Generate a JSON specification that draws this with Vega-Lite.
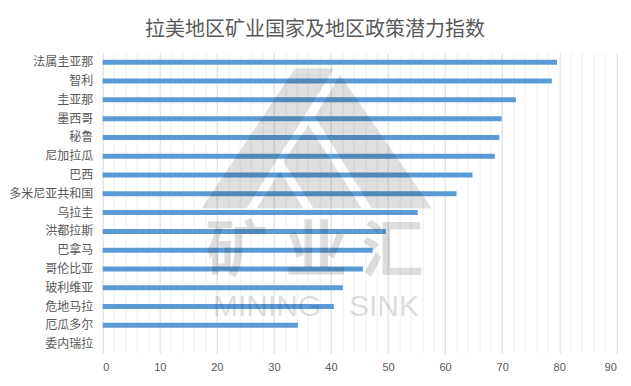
{
  "$schema": "https://vega.github.io/schema/vega-lite/v6.json",
  "autosize": {"type": "none"},
  "width": 513.6,
  "height": 300.6,
  "padding": {"left": 102.7, "top": 52.9, "right": 14.7, "bottom": 32.5},
  "background": "white",
  "title": {
    "text": "拉美地区矿业国家及地区政策潜力指数",
    "font": "Noto Sans CJK SC",
    "fontSize": 20,
    "fontWeight": "normal",
    "color": "#595959",
    "anchor": "middle",
    "frame": "group",
    "dx": -44.5,
    "offset": 13
  },
  "config": {
    "view": {"stroke": null},
    "axis": {"labelColor": "#595959"}
  },
  "datasets": {
    "main": [
      {"country": "法属圭亚那", "value": 79.6},
      {"country": "智利", "value": 78.7},
      {"country": "圭亚那", "value": 72.4},
      {"country": "墨西哥", "value": 69.9},
      {"country": "秘鲁", "value": 69.5},
      {"country": "尼加拉瓜", "value": 68.7},
      {"country": "巴西", "value": 64.8},
      {"country": "多米尼亚共和国", "value": 62.0},
      {"country": "乌拉圭", "value": 55.2},
      {"country": "洪都拉斯", "value": 49.6},
      {"country": "巴拿马", "value": 47.3},
      {"country": "哥伦比亚", "value": 45.6},
      {"country": "玻利维亚", "value": 42.1},
      {"country": "危地马拉", "value": 40.5},
      {"country": "厄瓜多尔", "value": 34.2},
      {"country": "委内瑞拉", "value": 0}
    ]
  },
  "encoding": {
    "x": {
      "type": "quantitative",
      "scale": {"domain": [0, 90], "nice": false, "zero": true},
      "axis": {
        "title": null,
        "values": [0,2,4,6,8,10,12,14,16,18,20,22,24,26,28,30,32,34,36,38,40,42,44,46,48,50,52,54,56,58,60,62,64,66,68,70,72,74,76,78,80,82,84,86,88,90],
        "labelExpr": "datum.value % 10 === 0 ? datum.label : ''",
        "grid": true,
        "gridColor": {"condition": {"test": "datum.value % 10 === 0", "value": "#D9D9D9"}, "value": "#EFEFEF"},
        "gridWidth": 1,
        "ticks": false,
        "domain": false,
        "labelFont": "Liberation Sans",
        "labelFontSize": 11,
        "labelPadding": 8,
        "labelColor": "#595959"
      }
    },
    "y": {
      "type": "nominal",
      "scale": {
        "domain": ["法属圭亚那","智利","圭亚那","墨西哥","秘鲁","尼加拉瓜","巴西","多米尼亚共和国","乌拉圭","洪都拉斯","巴拿马","哥伦比亚","玻利维亚","危地马拉","厄瓜多尔","委内瑞拉"],
        "paddingInner": 0.7,
        "paddingOuter": 0.35
      },
      "axis": {
        "title": null,
        "ticks": false,
        "domain": false,
        "grid": false,
        "labelFont": "Noto Sans CJK SC",
        "labelFontSize": 12,
        "labelPadding": 10,
        "labelColor": "#595959"
      }
    }
  },
  "layer": [
    {
      "data": {"name": "main"},
      "mark": {"type": "bar", "color": "#5B9BD5", "size": 5},
      "encoding": {
        "x": {"field": "value", "type": "quantitative"},
        "y": {"field": "country", "type": "nominal"}
      }
    },
    {
      "data": {"values": [{}]},
      "mark": {
        "type": "point",
        "filled": true,
        "color": "#1a1a1a",
        "opacity": 0.14,
        "size": 52900,
        "shape": "M-0.189,-0.601L0.153,-0.601L-0.609,0.616L-1,0.616ZM0.203,-0.543L1,0.616L0.478,0.616L-0.015,-0.181ZM-0.073,-0.109L0.391,0.616L-0.029,0.616L-0.29,0.21ZM-0.319,0.297L-0.116,0.616L-0.522,0.616Z"
      },
      "encoding": {
        "x": {"datum": 37.5, "type": "quantitative"},
        "y": {"datum": "秘鲁", "type": "nominal"}
      }
    },
    {
      "data": {"values": [{}]},
      "mark": {"type": "text", "text": "矿", "font": "Noto Sans CJK SC", "fontWeight": "bold", "fontSize": 62, "color": "#1a1a1a", "opacity": 0.14, "baseline": "middle", "dy": 3},
      "encoding": {
        "x": {"datum": 23.5, "type": "quantitative"},
        "y": {"datum": "巴拿马", "type": "nominal"}
      }
    },
    {
      "data": {"values": [{}]},
      "mark": {"type": "text", "text": "业", "font": "Noto Sans CJK SC", "fontWeight": "bold", "fontSize": 62, "color": "#1a1a1a", "opacity": 0.14, "baseline": "middle", "dy": 3},
      "encoding": {
        "x": {"datum": 37.4, "type": "quantitative"},
        "y": {"datum": "巴拿马", "type": "nominal"}
      }
    },
    {
      "data": {"values": [{}]},
      "mark": {"type": "text", "text": "汇", "font": "Noto Sans CJK SC", "fontWeight": "bold", "fontSize": 62, "color": "#1a1a1a", "opacity": 0.14, "baseline": "middle", "dy": 3},
      "encoding": {
        "x": {"datum": 50.8, "type": "quantitative"},
        "y": {"datum": "巴拿马", "type": "nominal"}
      }
    },
    {
      "data": {"values": [{}]},
      "mark": {"type": "text", "text": "MINING", "font": "Liberation Sans", "fontSize": 30, "color": "#1a1a1a", "opacity": 0.14, "baseline": "middle"},
      "encoding": {
        "x": {"datum": 28.8, "type": "quantitative"},
        "y": {"datum": "危地马拉", "type": "nominal"}
      }
    },
    {
      "data": {"values": [{}]},
      "mark": {"type": "text", "text": "SINK", "font": "Liberation Sans", "fontSize": 30, "color": "#1a1a1a", "opacity": 0.14, "baseline": "middle"},
      "encoding": {
        "x": {"datum": 49.3, "type": "quantitative"},
        "y": {"datum": "危地马拉", "type": "nominal"}
      }
    }
  ]
}
